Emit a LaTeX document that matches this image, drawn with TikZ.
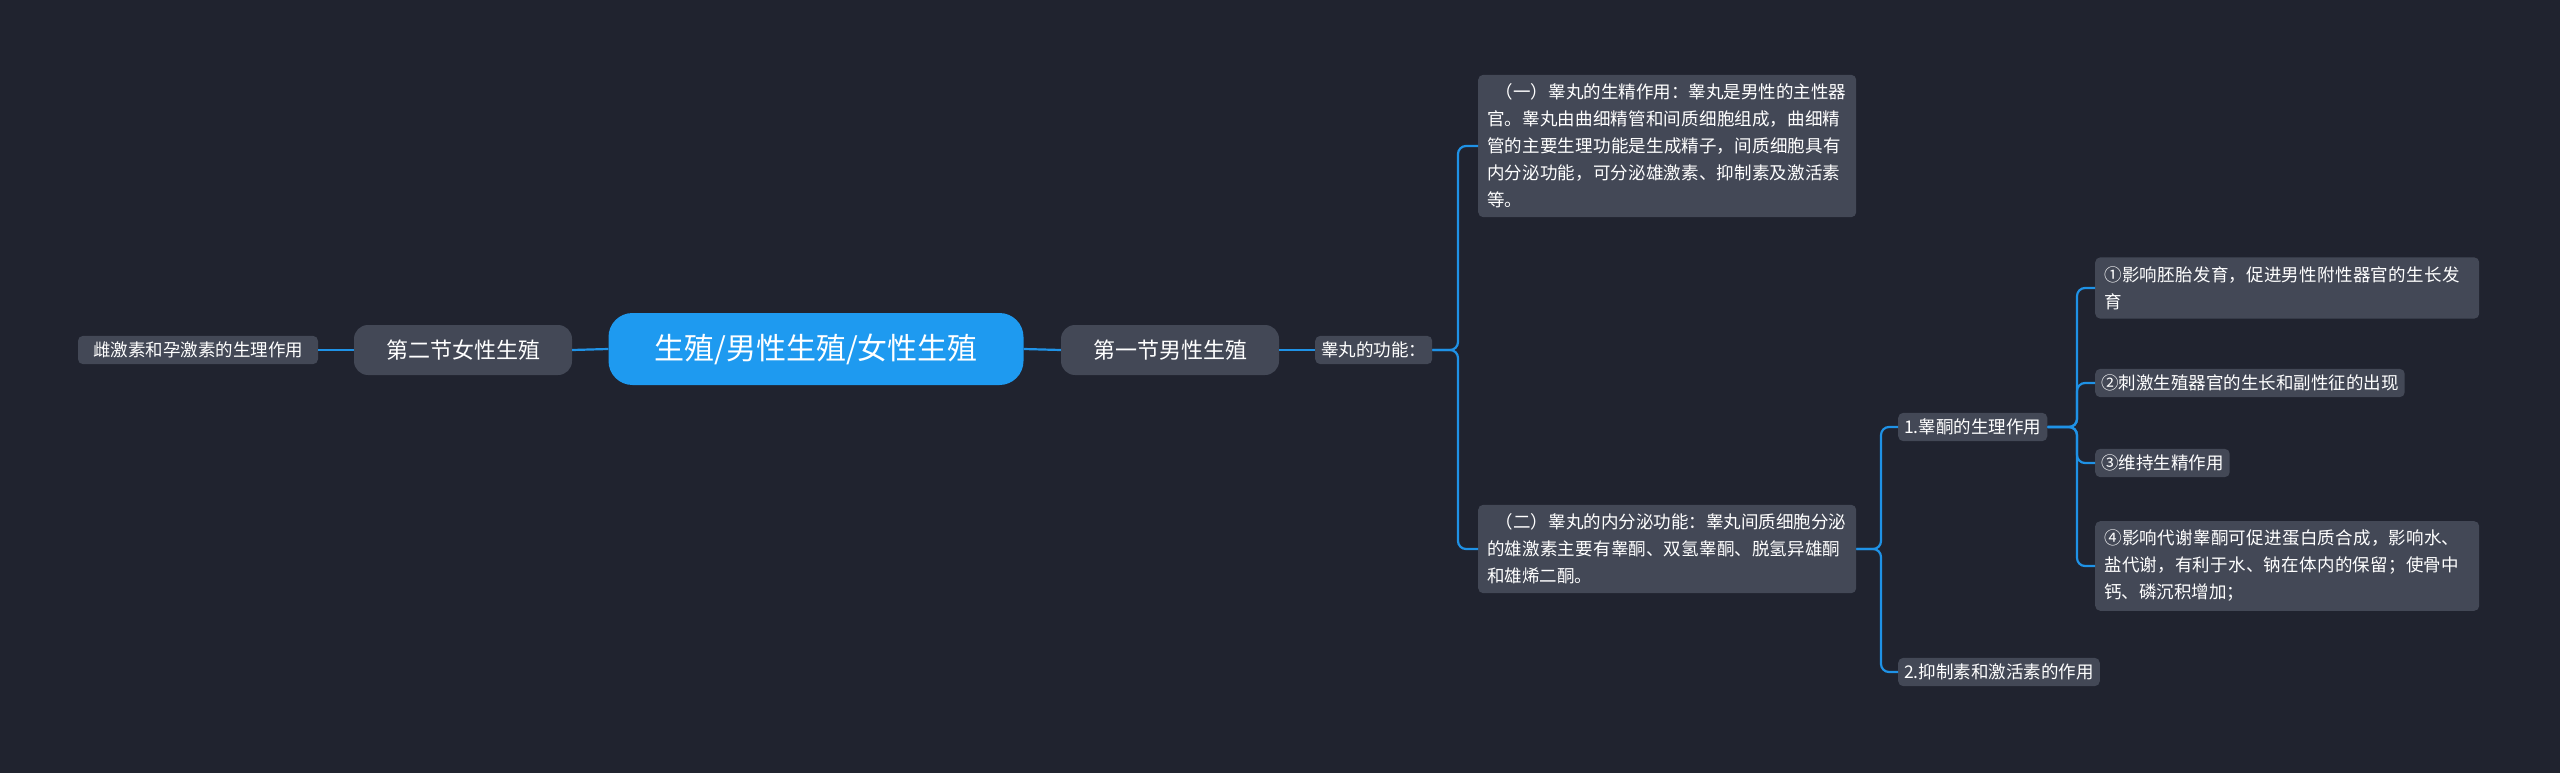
\documentclass[tikz,border=0pt]{standalone}
\usepackage{fontspec}
\setmainfont{Noto Sans CJK SC}
\XeTeXlinebreaklocale "zh"
\XeTeXlinebreakskip=0pt plus 1pt
\begin{document}
\begin{tikzpicture}[x=1pt,y=-1pt,
  leaf/.style={fill=nodec,rounded corners=5pt,text=white,font=\fontsize{17.5}{27}\selectfont,inner sep=8pt,anchor=west},
  mid/.style={fill=nodec,rounded corners=14pt,text=white,font=\fontsize{22}{26}\selectfont,minimum height=50pt,inner xsep=20pt},
  conn/.style={draw=linec,line width=2.2pt,rounded corners=8pt}]
\definecolor{bg}{HTML}{20232F}
\definecolor{nodec}{HTML}{434856}
\definecolor{linec}{HTML}{1F92E6}
\definecolor{rootc}{HTML}{1E9AF0}
\fill[bg] (0,0) rectangle (2560,773);
\useasboundingbox (0,0) rectangle (2560,773);
\node[fill=rootc,rounded corners=24pt,text=white,font=\fontsize{30}{36}\selectfont,minimum width=415pt,minimum height=72pt] (root) at (816,349) {生殖/男性生殖/女性生殖};
\node[mid,minimum width=218pt] (f) at (463,350) {第二节女性生殖};
\node[leaf,anchor=center,minimum width=240pt,inner sep=6pt] (f1) at (198,350) {雌激素和孕激素的生理作用};
\node[mid,minimum width=218pt] (m) at (1170,350) {第一节男性生殖};
\node[leaf,inner sep=6pt] (g) at (1315,350) {睾丸的功能：};
\node[leaf,text width=360pt,inner sep=9pt,align=left] (b1) at (1478,146) {\hspace*{0.5em}（一）睾丸的生精作用：睾丸是男性的主性器官。睾丸由曲细精管和间质细胞组成，曲细精管的主要生理功能是生成精子，间质细胞具有内分泌功能，可分泌雄激素、抑制素及激活素等。};
\node[leaf,text width=360pt,inner sep=9pt,align=left] (b2) at (1478,549) {\hspace*{0.5em}（二）睾丸的内分泌功能：睾丸间质细胞分泌的雄激素主要有睾酮、双氢睾酮、脱氢异雄酮和雄烯二酮。};
\node[leaf,inner sep=6pt] (t) at (1898,427) {1.睾酮的生理作用};
\node[leaf,inner sep=6pt] (t2) at (1898,672) {2.抑制素和激活素的作用};
\node[leaf,text width=366pt,inner sep=9pt,align=left] (c1) at (2095,288) {①影响胚胎发育，促进男性附性器官的生长发育};
\node[leaf,inner sep=6pt] (c2) at (2095,383) {②刺激生殖器官的生长和副性征的出现};
\node[leaf,inner sep=6pt] (c3) at (2095,463) {③维持生精作用};
\node[leaf,text width=366pt,inner sep=9pt,align=left] (c4) at (2095,566) {④影响代谢睾酮可促进蛋白质合成，影响水、盐代谢，有利于水、钠在体内的保留；使骨中钙、磷沉积增加；};
\draw[conn] (root.west) -- (f.east);
\draw[conn] (f.west) -- (f1.east);
\draw[conn] (root.east) -- (m.west);
\draw[conn] (m.east) -- (g.west);
\draw[conn] (g.east) -- (1458,350) |- (b1.west);
\draw[conn] (g.east) -- (1458,350) |- (b2.west);
\draw[conn] (b2.east) -- (1881,549) |- (t.west);
\draw[conn] (b2.east) -- (1881,549) |- (t2.west);
\foreach \c in {c1,c2,c3,c4} \draw[conn] (t.east) -- (2077,427) |- (\c.west);
\end{tikzpicture}
\end{document}
